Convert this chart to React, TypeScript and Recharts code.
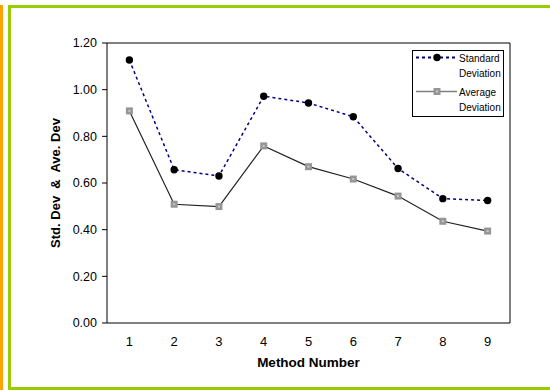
import React from 'react';
import {
  LineChart,
  Line,
  XAxis,
  YAxis,
  ReferenceLine,
  Legend,
} from 'recharts';

const methods = [1, 2, 3, 4, 5, 6, 7, 8, 9];
const stdDev = [1.127, 0.657, 0.63, 0.972, 0.943, 0.884, 0.662, 0.533, 0.525];
const avgDev = [0.909, 0.509, 0.499, 0.759, 0.67, 0.617, 0.544, 0.436, 0.394];
const yTicks = [0, 0.2, 0.4, 0.6, 0.8, 1.0, 1.2];
// tick marks sit between the methods, labels sit on them
const edgeTicks = [0.5, 1.5, 2.5, 3.5, 4.5, 5.5, 6.5, 7.5, 8.5, 9.5];

const SERIES_SD = ['Standard', 'Deviation'];
const SERIES_AVG = ['Average', 'Deviation'];

const FONT = '"Liberation Sans", Arial, sans-serif';
const NAVY = '#000080';

const chartData = methods.map((m, i) => ({
  method: m,
  sd: stdDev[i],
  avg: avgDev[i],
}));

const SquareDot = (props: any) => {
  const { cx, cy } = props;
  if (cx == null || cy == null) return null;
  return (
    <g>
      <rect x={cx - 3.5} y={cy - 3.5} width={7} height={7} fill="#969696" />
      <rect x={cx - 1} y={cy - 1} width={2} height={2} fill="#c8c8c8" />
    </g>
  );
};

const LegendBox = () => {
  const row = (lines: string[], sample: React.ReactNode) => (
    <div style={{ display: 'flex', alignItems: 'flex-start', height: 34 }}>
      <svg width={44} height={15} style={{ flex: 'none' }}>
        {sample}
      </svg>
      <div style={{ lineHeight: '15px' }}>
        {lines.map((l) => (
          <div key={l}>{l}</div>
        ))}
      </div>
    </div>
  );
  return (
    <div
      style={{
        boxSizing: 'border-box',
        width: 92,
        height: 67,
        border: '1px solid #000',
        background: '#fff',
        fontFamily: FONT,
        fontSize: 10,
        color: '#000',
        padding: '0 0 0 2px',
        lineHeight: 1,
      }}
    >
      {row(
        SERIES_SD,
        <>
          <line x1={1} x2={42} y1={6.5} y2={6.5} stroke={NAVY} strokeWidth={2} strokeDasharray="3 3" />
          <circle cx={22} cy={6.5} r={3.7} fill="#000" />
        </>
      )}
      {row(
        SERIES_AVG,
        <>
          <line x1={1} x2={42} y1={6.5} y2={6.5} stroke="#808080" strokeWidth={1.3} />
          <rect x={18.5} y={3} width={7} height={7} fill="#969696" />
          <rect x={21} y={5.5} width={2} height={2} fill="#c8c8c8" />
        </>
      )}
    </div>
  );
};

export default function App() {
  return (
    <div
      style={{
        position: 'absolute',
        left: 0,
        top: 0,
        width: 550,
        height: 390,
        overflow: 'hidden',
        background: '#fff',
      }}
    >
      {/* frame around the chart */}
      <div
        style={{
          position: 'absolute',
          left: 0,
          top: 5,
          width: 3,
          height: 385,
          background: '#ffa200',
        }}
      />
      <div
        style={{
          position: 'absolute',
          left: 8,
          top: 5,
          width: 600,
          height: 385,
          boxSizing: 'border-box',
          border: '3px solid #99cc00',
        }}
      />
      <div style={{ position: 'absolute', left: 0, top: 0 }}>
        <LineChart
          width={550}
          height={390}
          data={chartData}
          margin={{ top: 43, right: 40, bottom: 17, left: 0 }}
        >
          <XAxis
            xAxisId="edges"
            type="number"
            dataKey="method"
            domain={[0.5, 9.5]}
            ticks={edgeTicks}
            tick={false}
            axisLine={false}
            tickSize={4}
            height={0}
            stroke="#000"
          />
          <XAxis
            type="number"
            dataKey="method"
            domain={[0.5, 9.5]}
            ticks={methods}
            interval={0}
            tickLine={false}
            tickSize={6}
            tickMargin={8}
            height={50}
            stroke="#000"
            tick={{ fontSize: 13, fill: '#000', fontFamily: FONT }}
            label={{
              value: 'Method Number',
              position: 'insideBottom',
              offset: 6,
              style: { fontSize: 13.5, fontWeight: 'bold', fill: '#000', fontFamily: FONT },
            }}
          />
          <YAxis
            type="number"
            domain={[0, 1.2]}
            ticks={yTicks}
            interval={0}
            width={107}
            tickSize={5}
            tickMargin={5}
            stroke="#000"
            tickFormatter={(v: number) => v.toFixed(2)}
            tick={{ fontSize: 12.5, fill: '#000', fontFamily: FONT }}
            label={{
              value: 'Std. Dev\u00A0 &\u00A0 Ave. Dev',
              angle: -90,
              position: 'center',
              dx: 1.5,
              style: { fontSize: 13, fontWeight: 'bold', fill: '#000', fontFamily: FONT },
            }}
          />
          <ReferenceLine y={1.2} stroke="#000" strokeWidth={1} />
          <ReferenceLine x={9.5} stroke="#000" strokeWidth={1} />
          <Legend
            content={<LegendBox />}
            layout="vertical"
            align="center"
            verticalAlign="middle"
            wrapperStyle={{ position: 'absolute', left: 412, top: 50, width: 92, height: 67 }}
          />
          <Line
            dataKey="sd"
            name="Standard Deviation"
            stroke={NAVY}
            strokeWidth={1.5}
            strokeDasharray="3 3"
            dot={{ r: 3.7, fill: '#000', stroke: '#000', strokeWidth: 0 }}
            activeDot={false}
            isAnimationActive={false}
          />
          <Line
            dataKey="avg"
            name="Average Deviation"
            stroke="#222"
            strokeWidth={1.2}
            dot={<SquareDot />}
            activeDot={false}
            isAnimationActive={false}
          />
        </LineChart>
      </div>
    </div>
  );
}
